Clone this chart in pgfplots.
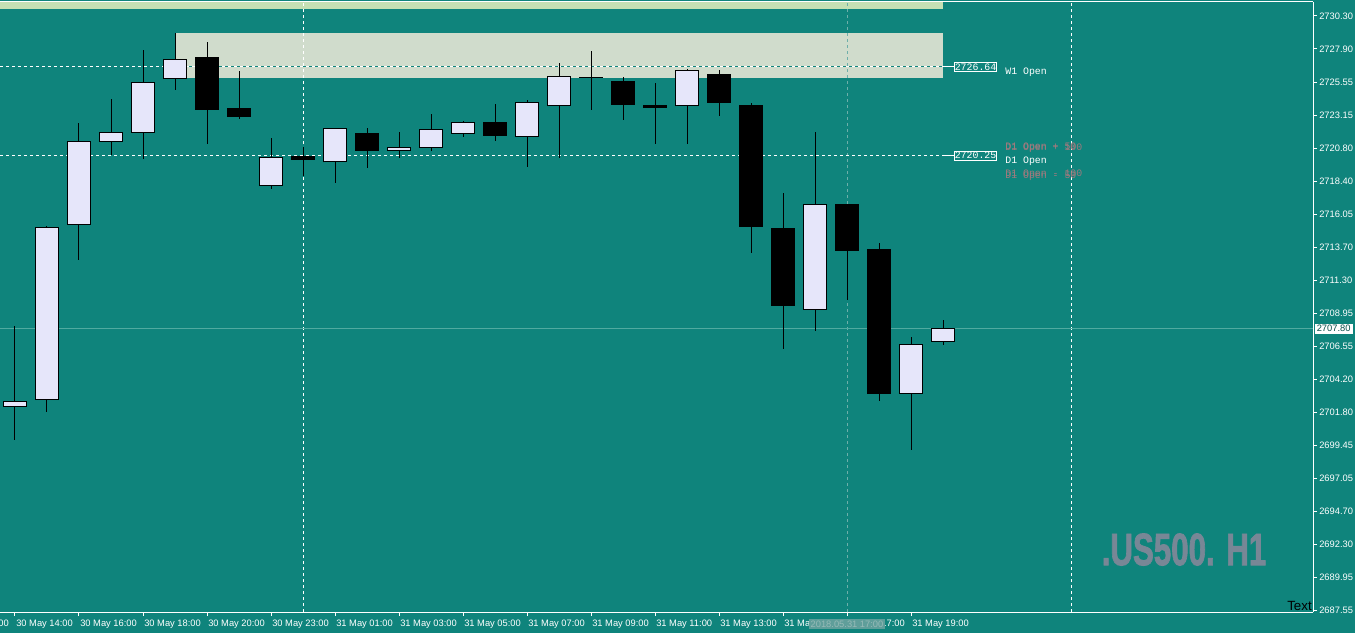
\documentclass[border=0pt]{standalone}
\usepackage{pgfplots}
\pgfplotsset{compat=1.18}
\usepackage{pgfplotstable}
\usepackage{fontspec}
\setmainfont{Liberation Sans}
\newfontfamily\monofont{Liberation Mono}
\newfontfamily\wmfont[BoldFeatures={FakeBold=2}]{Liberation Sans}
\definecolor{bg}{RGB}{15,132,124}
\definecolor{bullc}{RGB}{230,230,250}
\definecolor{zoneA}{RGB}{197,224,180}
\definecolor{zoneB}{RGB}{208,220,204}
\definecolor{curline}{RGB}{80,170,160}
\definecolor{crossc}{RGB}{110,175,170}
\definecolor{graytxt}{RGB}{160,122,126}
\definecolor{wmark}{RGB}{120,135,150}
\definecolor{crossbox}{RGB}{95,158,154}
\definecolor{crosstxt}{RGB}{150,186,183}
% x = bar index, o h l c
\pgfplotstableread{
x o h l c
1 2702.21 2707.99 2699.81 2702.57
2 2702.71 2715.19 2701.82 2715.09
3 2715.31 2722.60 2712.76 2721.28
4 2721.28 2724.33 2720.32 2721.93
5 2721.93 2727.85 2720.03 2725.53
6 2725.79 2729.08 2725.00 2727.18
9 2718.09 2721.52 2717.87 2720.13
11 2719.81 2722.22 2718.30 2722.22
13 2720.63 2721.95 2720.10 2720.87
14 2720.85 2723.25 2720.61 2722.15
15 2721.86 2722.74 2721.61 2722.65
17 2721.61 2724.25 2719.45 2724.09
18 2723.84 2726.92 2720.10 2725.96
19 2725.89 2727.78 2723.56 2725.89
22 2723.84 2726.49 2721.11 2726.41
26 2709.19 2721.95 2707.65 2716.75
29 2703.15 2707.20 2699.09 2706.67
30 2706.89 2708.42 2706.64 2707.80
}\bulltab
\pgfplotstableread{
x o h l c
7 2727.35 2728.43 2721.11 2723.56
8 2723.68 2726.34 2722.91 2723.05
10 2720.22 2720.87 2718.81 2719.96
12 2721.86 2722.24 2719.38 2720.61
16 2722.65 2723.97 2721.33 2721.69
20 2725.62 2725.91 2722.84 2723.92
21 2723.87 2725.48 2721.11 2723.70
23 2726.13 2726.41 2723.12 2724.06
24 2723.89 2724.04 2713.26 2715.14
25 2715.02 2717.56 2706.36 2709.45
27 2716.75 2716.75 2709.88 2713.41
28 2713.51 2713.96 2702.61 2703.12
}\beartab
\pgfplotsset{
  ebar/.style n args={2}{draw=none, no markers, forget plot,
    error bars/.cd, y dir=plus, y explicit, error mark=none,
    error bar style={draw=#1, solid, line width=#2}},
}
\begin{document}
\begin{tikzpicture}
\fill[bg] (0,0) rectangle (1016.25pt,474.75pt);
\begin{axis}[
  at={(0pt,15.75pt)}, anchor=south west,
  width=984.75pt, height=457.5pt, scale only axis,
  xmin=0.53125, xmax=41.5625, ymin=2687.406, ymax=2731.308,
  clip=false,
  axis x line*=bottom, axis y line*=right,
  axis line style={white, line width=0.75pt},
  tick align=outside, major tick length=3pt,
  every tick/.style={white, line width=0.75pt},
  xtick={1,3,5,7,9,11,13,15,17,19,21,23,25,27,29},
  xticklabels={30 May 14:00,30 May 16:00,30 May 18:00,30 May 20:00,30 May 23:00,31 May 01:00,31 May 03:00,31 May 05:00,31 May 07:00,31 May 09:00,31 May 11:00,31 May 13:00,31 May 15:00,31 May 17:00,31 May 19:00},
  ytick={2730.300,2727.925,2725.550,2723.175,2720.800,2718.425,2716.050,2713.675,2711.300,2708.925,2706.550,2704.175,2701.800,2699.425,2697.050,2694.675,2692.300,2689.925,2687.550},
  yticklabels={2730.30,2727.90,2725.55,2723.15,2720.80,2718.40,2716.05,2713.70,2711.30,2708.95,2706.55,2704.20,2701.80,2699.45,2697.05,2694.70,2692.30,2689.95,2687.55},
  /pgf/number format/assume math mode=true,
  every tick label/.append style={font=\fontsize{7}{8}\selectfont, text=white},
  xticklabel style={anchor=north west, inner sep=0pt, xshift=0.75pt, yshift=-3pt},
  yticklabel style={anchor=west, inner sep=0pt, xshift=1.5pt},
]
% zones
\addplot[fill=zoneA, draw=none] coordinates {(0.53125,2730.80) (30,2730.80) (30,2731.308) (0.53125,2731.308)} -- cycle;
\addplot[fill=zoneB, draw=none] coordinates {(6.03,2725.84) (30,2725.84) (30,2729.08) (6.03,2729.08)} -- cycle;
% separators
\addplot[white, dash pattern=on 2.25pt off 2.25pt, line width=0.75pt] coordinates {(10,2687.406) (10,2731.308)};
\addplot[white, dash pattern=on 2.25pt off 2.25pt, line width=0.75pt] coordinates {(34,2687.406) (34,2731.308)};
\addplot[crossc, dash pattern=on 2.25pt off 2.25pt, line width=0.75pt] coordinates {(27,2687.406) (27,2731.308)};
% current price line
\addplot[curline, line width=0.6pt] coordinates {(0.53125,2707.80) (41.5625,2707.80)};
% W1 / D1 open lines
\addplot[bg, line width=0.75pt] coordinates {(0.53125,2726.64) (30.06,2726.64)};
\addplot[white, dash pattern=on 2.25pt off 2.25pt, line width=0.75pt] coordinates {(0.53125,2726.64) (30.06,2726.64)};
\addplot[white, line width=0.75pt] coordinates {(30.06,2726.64) (30.34,2726.64)};
\addplot[white, dash pattern=on 2.25pt off 2.25pt, line width=0.75pt] coordinates {(0.53125,2720.25) (30.06,2720.25)};
\addplot[white, line width=0.75pt] coordinates {(30.06,2720.25) (30.34,2720.25)};
% wicks
\addplot[ebar={black}{0.75pt}] table[x=x, y=l, y error plus expr=\thisrow{h}-\thisrow{l}] \bulltab;
\addplot[ebar={black}{0.75pt}] table[x=x, y=l, y error plus expr=\thisrow{h}-\thisrow{l}] \beartab;
% bodies
\addplot[ebar={black}{18pt}] table[x=x, y expr={min(\thisrow{o},\thisrow{c})-0.036}, y error plus expr={abs(\thisrow{c}-\thisrow{o})+0.072}] \bulltab;
\addplot[ebar={bullc}{16.5pt}] table[x=x, y expr={min(\thisrow{o},\thisrow{c})+0.036}, y error plus expr={max(abs(\thisrow{c}-\thisrow{o})-0.072,0)}] \bulltab;
\addplot[ebar={black}{18pt}] table[x=x, y=c, y error plus expr=\thisrow{o}-\thisrow{c}] \beartab;
% labels
\node[draw=white, line width=0.6pt, inner xsep=0.4pt, inner ysep=1pt, text=white, font=\monofont\fontsize{7.4}{8}\selectfont, anchor=west] at (axis cs:30.34,2726.64) {2726.64};
\node[text=white, font=\monofont\fontsize{7.4}{8}\selectfont, anchor=west, inner sep=0pt] at (axis cs:31.94,2726.25) {W1 Open};
\node[draw=white, line width=0.6pt, inner xsep=0.4pt, inner ysep=1pt, text=white, font=\monofont\fontsize{7.4}{8}\selectfont, anchor=west] at (axis cs:30.34,2720.25) {2720.25};
\node[text=white, font=\monofont\fontsize{7.4}{8}\selectfont, anchor=west, inner sep=0pt] at (axis cs:31.94,2719.85) {D1 Open};
\node[text=graytxt, font=\monofont\fontsize{7.4}{8}\selectfont, anchor=west, inner sep=0pt] at (axis cs:31.94,2720.75) {D1 Open + 100};
\node[text=graytxt, font=\monofont\fontsize{7.4}{8}\selectfont, anchor=west, inner sep=0pt] at (axis cs:31.94,2720.85) {D1 Open + 50};
\node[text=graytxt, font=\monofont\fontsize{7.4}{8}\selectfont, anchor=west, inner sep=0pt] at (axis cs:31.94,2718.90) {D1 Open - 100};
\node[text=graytxt, font=\monofont\fontsize{7.4}{8}\selectfont, anchor=west, inner sep=0pt] at (axis cs:31.94,2718.77) {D1 Open - 50};
\node[fill=white, text=bg!60!black, font=\fontsize{7}{8}\selectfont, anchor=west, inner xsep=1.5pt, inner ysep=1.2pt] at (axis cs:41.61,2707.80) {2707.80};
\node[fill=crossbox, text=crosstxt, font=\fontsize{7}{8}\selectfont, anchor=north, inner xsep=1.5pt, inner ysep=1.5pt] at (axis cs:27,2686.95) {2018.05.31 17:00};
\node[text=white, font=\fontsize{7}{8}\selectfont, anchor=north west, inner sep=0pt, xshift=0.75pt, yshift=-6pt] at (axis cs:-1,2687.406) {30 May 12:00};
\end{axis}
\draw[white, line width=0.75pt] (0pt,473.25pt) -- (984.75pt,473.25pt);
\node[text=wmark, font=\wmfont\bfseries\fontsize{34}{36}\selectfont, xscale=0.69] at (888pt,62.6pt) {.US500. H1};
\node[text=black, font=\fontsize{10}{11}\selectfont, anchor=south east, inner sep=0pt] at (984pt,16.5pt) {Text};
\pgfresetboundingbox
\path[use as bounding box] (0,0) rectangle (1016.25pt,474.75pt);
\end{tikzpicture}
\end{document}
